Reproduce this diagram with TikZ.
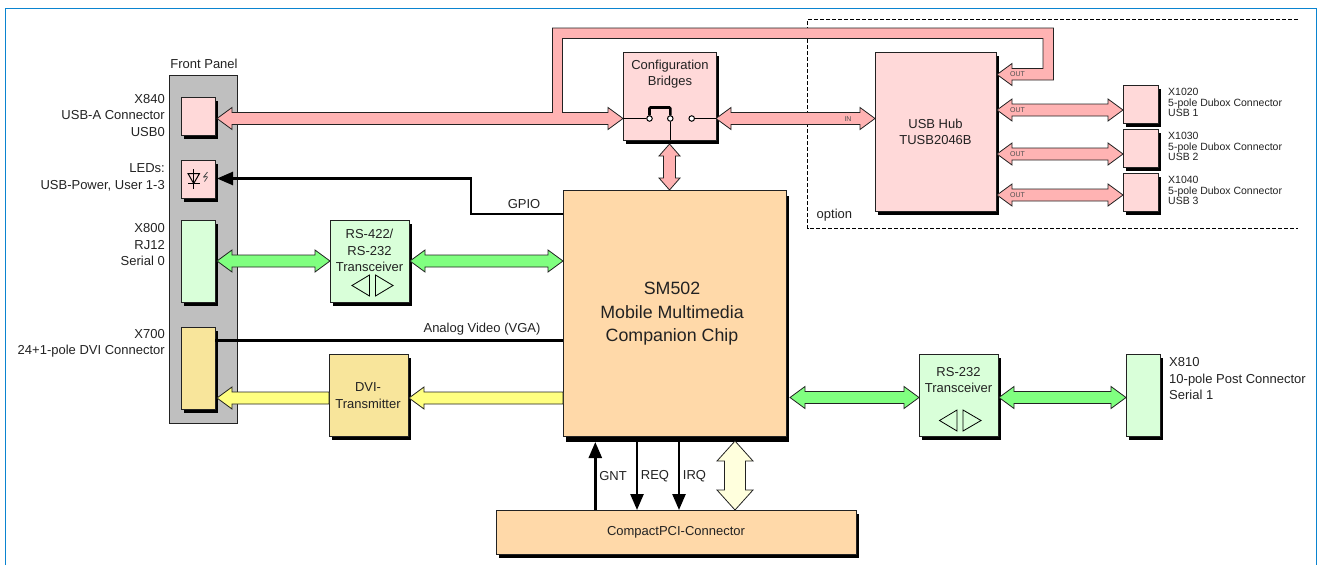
\documentclass[tikz,border=0pt]{standalone}
\usepackage{fontspec}
\setmainfont{Liberation Sans}
\usetikzlibrary{calc,arrows.meta}
\definecolor{pinkbox}{HTML}{FFD9D9}
\definecolor{pinkarr}{HTML}{FFB3B3}
\definecolor{greenbox}{HTML}{D9FFD9}
\definecolor{greenarr}{HTML}{80FF80}
\definecolor{yellowbox}{HTML}{F8E59B}
\definecolor{yellowarr}{HTML}{FFFF80}
\definecolor{orangebox}{HTML}{FFD9A9}
\definecolor{creamarr}{HTML}{FFFFDD}
\definecolor{frameblue}{HTML}{0A84D0}
\definecolor{ink}{HTML}{222222}
\tikzset{
  boxbase/.style={draw=ink,line width=0.9pt,inner sep=0pt,outer sep=0pt,rectangle},
  fat/.style={draw=ink,line width=0.8pt,line join=miter,fill=#1},
  sig/.style={line width=2.5pt,black,line cap=butt},
  sigtip/.style={sig,-{Triangle[length=16pt,width=13pt]}},
  wire/.style={line width=1pt,black},
  contact/.style={circle,draw=black,line width=1pt,fill=white,inner sep=0pt,minimum size=5.5pt},
  lbl/.style={text=ink,inner sep=0pt,font=\fontsize{13}{16.5}\selectfont},
  small/.style={text=ink,inner sep=0pt,font=\fontsize{10.5}{10.6}\selectfont,align=left,anchor=west},
  tiny/.style={text=ink!80,inner sep=0pt,font=\fontsize{7}{8}\selectfont},
  icon/.style={draw=black,line width=0.8pt},
}
% plain box: name, x1, y1, x2, y2, style
\newcommand\bxplain[6]{\node[boxbase,#6,minimum width={(#4-#2)*1pt},minimum height={(#5-#3)*1pt}] (#1) at ({(#2+#4)/2},{(#3+#5)/2}) {};}
% box with black shadow; optional: shadow depth below
\newcommand\bx[7][3.5]{\fill[black] ({#3+3},{#4+#1}) rectangle ({#5+3},{#6+#1});\bxplain{#2}{#3}{#4}{#5}{#6}{#7}}
% double arrow: fill, from, to, head length, head half, shaft half
\newcommand\fatdbl[6]{\path[fat=#1] let \p1=#2,\p2=#3,\n1={veclen(\x2-\x1,\y2-\y1)},\n2={atan2(\y2-\y1,\x2-\x1)} in
  [shift={(\p1)},rotate=\n2] (0pt,0pt) -- (#4pt,#5pt) -- (#4pt,#6pt) -- (\n1-#4pt,#6pt) -- (\n1-#4pt,#5pt) -- (\n1,0pt) -- (\n1-#4pt,-#5pt) -- (\n1-#4pt,-#6pt) -- (#4pt,-#6pt) -- (#4pt,-#5pt) -- cycle;}
% single arrow pointing at "from"
\newcommand\fatone[6]{\path[fat=#1] let \p1=#2,\p2=#3,\n1={veclen(\x2-\x1,\y2-\y1)},\n2={atan2(\y2-\y1,\x2-\x1)} in
  [shift={(\p1)},rotate=\n2] (0pt,0pt) -- (#4pt,#5pt) -- (#4pt,#6pt) -- (\n1,#6pt) -- (\n1,-#6pt) -- (#4pt,-#6pt) -- (#4pt,-#5pt) -- cycle;}
\begin{document}
\begin{tikzpicture}[x=1pt,y=-1pt]
\useasboundingbox (0,0) rectangle (1321,565);
% outer frame
\coordinate (fbl) at (5.5,565); \coordinate (ftl) at (5.5,8.5);
\coordinate (ftr) at (1316,8.5); \coordinate (fbr) at (1316,565);
\draw[frameblue,line width=1pt] (fbl) -- (ftl) -- (ftr) -- (fbr);
% option region
\coordinate (otr) at (1298,19.5); \coordinate (otl) at (807.5,19.5);
\coordinate (obl) at (807.5,228.5); \coordinate (obr) at (1298,228.5);
\draw[black,line width=0.8pt,dash pattern=on 4pt off 2pt] (otr) -- (otl) -- (obl) -- (obr);
\node[lbl,anchor=west] (optlbl) at (816.5,215.5) {option};
% front panel
\bxplain{panel}{169}{75}{237}{423}{fill=black!25}
\node[lbl] (paneltitle) at (204,64) {Front Panel};
% boxes
\bx{xusb}{181}{97}{215}{135}{fill=pinkbox}
\bx{xled}{181}{160}{215}{198}{fill=pinkbox}
\bx{xser}{181}{220}{215}{302}{fill=greenbox}
\bx{xdvi}{181}{327}{215}{409}{fill=yellowbox}
\bx{rsa}{330}{220}{409}{302}{fill=greenbox}
\bx{dvi}{329}{354}{408}{436}{fill=yellowbox}
\bx[6]{sm}{563}{190}{786}{436}{fill=orangebox}
\bx[4]{cfg}{623}{52}{716}{140}{fill=pinkbox}
\bx{hub}{875}{52}{996}{211}{fill=pinkbox}
\bx{ua}{1123}{85}{1158}{123}{fill=pinkbox}
\bx{ub}{1123}{129}{1158}{167}{fill=pinkbox}
\bx{uc}{1123}{173}{1158}{211}{fill=pinkbox}
\bx{rsb}{919}{354}{998}{436}{fill=greenbox}
\bx{xpost}{1126}{354}{1160}{436}{fill=greenbox}
\bx{cpci}{496}{510}{856}{554}{fill=orangebox}
% rail levels
\coordinate (yusb) at (0,118.5);
\coordinate (youta) at (0,74.5);
\coordinate (youtb) at (0,110);
\coordinate (youtc) at (0,154);
\coordinate (youtd) at (0,195);
\coordinate (yser) at (0,261);
\coordinate (yled) at (0,178.5);
\coordinate (ygpio) at (0,214);
\coordinate (yvga) at (0,340.5);
\coordinate (yyel) at (0,398);
\coordinate (ygrn) at (0,397.5);
% USB bus with loop
\coordinate (tipa) at ([xshift=2pt]xusb.east |- yusb);
\coordinate (tipb) at (cfg.west |- yusb);
\coordinate (tipc) at ([xshift=1pt]hub.east |- youta);
\coordinate (rail) at (552.5,28);
\coordinate (railr) at (1053.5,28);
\path[fat=pinkarr] let \p1=(tipa),\p2=(tipb),\p3=(tipc),\p4=(rail),\p5=(railr) in
  (\p1) -- (\x1+15pt,\y1+11pt) -- (\x1+15pt,\y1+6pt) -- (\x4,\y1+6pt) -- (\x4,\y4) -- (\x5,\y4)
  -- (\x5,\y3-5.5pt) -- (\x3+15pt,\y3-5.5pt) -- (\x3+15pt,\y3-11pt) -- (\p3)
  -- (\x3+15pt,\y3+11pt) -- (\x3+15pt,\y3+6pt) -- (\x5-10.5pt,\y3+6pt) -- (\x5-10.5pt,\y4-10.5pt)
  -- (\x4+10pt,\y4-10.5pt) -- (\x4+10pt,\y1+6pt) -- (\x2-15pt,\y1+6pt) -- (\x2-15pt,\y1+11pt) -- (\p2)
  -- (\x2-15pt,\y1-11pt) -- (\x2-15pt,\y1-6pt) -- (\x1+15pt,\y1-6pt) -- (\x1+15pt,\y1-11pt) -- cycle;
\fatdbl{pinkarr}{(cfg.east |- yusb)}{(hub.west |- yusb)}{15}{11}{6}
\fatdbl{pinkarr}{([yshift=-4pt]cfg.south)}{(cfg.south |- sm.north)}{12}{10.5}{6}
\fatdbl{pinkarr}{([xshift=1pt]hub.east |- youtb)}{(ua.west |- youtb)}{15}{11}{6}
\fatdbl{pinkarr}{([xshift=1pt]hub.east |- youtc)}{(ub.west |- youtc)}{15}{11}{6}
\fatdbl{pinkarr}{([xshift=1pt]hub.east |- youtd)}{(uc.west |- youtd)}{15}{11}{6}
\node[tiny] (lin) at (848,119) {IN};
\node[tiny] (louta) at (1017.5,74.5) {OUT};
\node[tiny] (loutb) at (1017.5,110) {OUT};
\node[tiny] (loutc) at (1017.5,154) {OUT};
\node[tiny] (loutd) at (1017.5,195) {OUT};
% switch inside configuration bridges
\node[contact] (ca) at (649.5,118.5) {};
\node[contact] (cb) at (670.3,118.5) {};
\node[contact] (cc) at (691.7,118.5) {};
\draw[wire] (cfg.west |- ca) -- (ca);
\draw[wire] (cc) -- (cfg.east |- cc);
\draw[wire] (cb) -- (cb |- cfg.south);
\coordinate (bridgel) at ([yshift=11pt]ca.center);
\coordinate (bridger) at ([yshift=11pt]cb.center);
\draw[line width=2.6pt,black,rounded corners=1pt] (ca.north) -- (bridgel) -- (bridger) -- (cb.north);
% green arrows
\fatdbl{greenarr}{([xshift=2pt]xser.east |- yser)}{(rsa.west |- yser)}{15}{11}{6}
\fatdbl{greenarr}{([xshift=1pt]rsa.east |- yser)}{(sm.west |- yser)}{15}{11}{6}
\fatdbl{greenarr}{([xshift=4pt]sm.east |- ygrn)}{(rsb.west |- ygrn)}{15}{11}{6}
\fatdbl{greenarr}{([xshift=1pt]rsb.east |- ygrn)}{(xpost.west |- ygrn)}{15}{11}{6}
% yellow arrows
\fatone{yellowarr}{([xshift=2pt]xdvi.east |- yyel)}{(dvi.west |- yyel)}{15}{11}{6}
\fatone{yellowarr}{([xshift=1pt]dvi.east |- yyel)}{(sm.west |- yyel)}{15}{11}{6}
% black signals
\draw[sig] (xdvi.east |- yvga) -- (sm.west |- yvga);
\coordinate (gpiotop) at (471,178.5);
\coordinate (gpiobot) at (471,214);
\draw[sigtip] (sm.west |- gpiobot) -- (gpiobot) -- (gpiotop) -- ([xshift=2pt]xled.east |- yled);
\node[lbl] (lgpio) at (524,204) {GPIO};
\node[lbl] (lvga) at (482,329.5) {Analog Video (VGA)};
\coordinate (xgnt) at (595.3,0);
\coordinate (xreq) at (637,0);
\coordinate (xirq) at (679,0);
\coordinate (xbus) at (735,0);
\draw[sigtip] (cpci.north -| xgnt) -- ([yshift=-6pt]sm.south -| xgnt);
\draw[sigtip] ([yshift=-6pt]sm.south -| xreq) -- (cpci.north -| xreq);
\draw[sigtip] ([yshift=-6pt]sm.south -| xirq) -- (cpci.north -| xirq);
\fatdbl{creamarr}{([yshift=-5pt]sm.south -| xbus)}{(cpci.north -| xbus)}{20}{18}{10.5}
\node[lbl] (lgnt) at (613,476) {GNT};
\node[lbl] (lreq) at (655,476) {REQ};
\node[lbl] (lirq) at (694.5,476) {IRQ};
% box labels
\node[lbl,align=right,anchor=east] (tx840) at (165,115.5) {X840\\USB-A Connector\\USB0};
\node[lbl,align=right,anchor=east] (tled) at (165,177.5) {LEDs:\\USB-Power, User 1-3};
\node[lbl,align=right,anchor=east] (tx800) at (165,245) {X800\\RJ12\\Serial 0};
\node[lbl,align=right,anchor=east] (tx700) at (165,343.5) {X700\\24+1-pole DVI Connector};
\node[lbl,align=center] (tcfg) at (670,74) {Configuration\\Bridges};
\node[lbl,align=center] (thub) at (935.5,132) {USB Hub\\TUSB2046B};
\node[lbl,align=center,font=\fontsize{17.8}{23.5}\selectfont] (tsm) at (672,314) {SM502\\Mobile Multimedia\\Companion Chip};
\node[lbl] (tcpci) at (676,532) {CompactPCI-Connector};
\node[lbl,align=center] (trsa) at (369.5,250.5) {RS-422/\\RS-232\\Transceiver};
\node[lbl,align=center] (trsb) at (958.5,380) {RS-232\\Transceiver};
\node[lbl,align=center] (tdvi) at (368,395.5) {DVI-\\Transmitter};
\node[lbl,align=left,anchor=west] (tx810) at (1169,379) {X810\\10-pole Post Connector\\Serial 1};
\node[small] (tua) at (1168,102.5) {X1020\\5-pole Dubox Connector\\USB 1};
\node[small] (tub) at (1168,146.5) {X1030\\5-pole Dubox Connector\\USB 2};
\node[small] (tuc) at (1168,190.5) {X1040\\5-pole Dubox Connector\\USB 3};
% transceiver icons
\draw[icon] (352,285.5) -- (369.5,275) -- (369.5,296) -- cycle;
\draw[icon] (393,285.5) -- (375.5,275) -- (375.5,296) -- cycle;
\draw[icon] (939.5,420.5) -- (957,410) -- (957,431) -- cycle;
\draw[icon] (981,420.5) -- (963,410) -- (963,431) -- cycle;
% LED icon
\draw[black,line width=1.3pt] (193.7,169) -- (193.7,188.5);
\draw[black,line width=1pt,line join=miter] (188,173.5) -- (199.5,173.5) -- (193.7,183.5) -- cycle;
\draw[black,line width=1.3pt] (188,183.5) -- (199.5,183.5);
\draw[black!70,line width=0.8pt] (207.5,172) -- (204,176.5) -- (206,176.5) -- (203.5,177.5);
\draw[black!70,line width=0.8pt] (207.5,177) -- (204.5,181.5);
\end{tikzpicture}
\end{document}
